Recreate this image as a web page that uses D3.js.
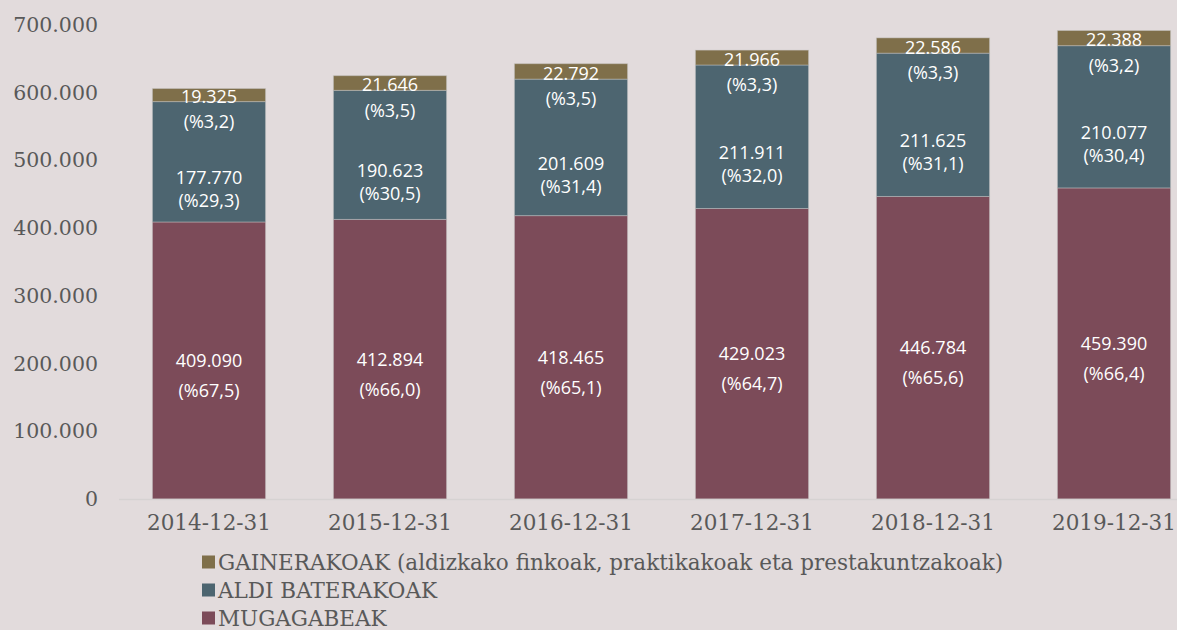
<!DOCTYPE html>
<html>
<head>
<meta charset="utf-8">
<script src="https://cdn.jsdelivr.net/npm/d3@7"></script>
<style>
  body { margin: 0; background: #e2dbdc; }
  svg { display: block; }
</style>
</head>
<body>
<div id="chart"></div>
<script>
// data
var categories = ["2014-12-31", "2015-12-31", "2016-12-31", "2017-12-31", "2018-12-31", "2019-12-31"];
var mugagabeak = [409090, 412894, 418465, 429023, 446784, 459390];
var aldiBaterakoak = [177770, 190623, 201609, 211911, 211625, 210077];
var gainerakoak = [19325, 21646, 22792, 21966, 22586, 22388];
var pctMugagabeak = ["67,5", "66,0", "65,1", "64,7", "65,6", "66,4"];
var pctAldi = ["29,3", "30,5", "31,4", "32,0", "31,1", "30,4"];
var pctGainerakoak = ["3,2", "3,5", "3,5", "3,3", "3,3", "3,2"];
var yTicks = [0, 100000, 200000, 300000, 400000, 500000, 600000, 700000];
var seriesNames = ["MUGAGABEAK", "ALDI BATERAKOAK", "GAINERAKOAK (aldizkako finkoak, praktikakoak eta prestakuntzakoak)"];

var width = 1177, height = 630;
var colors = ["#7c4b59", "#4d6570", "#7f6f4a"];
var serif = "'DejaVu Serif', serif";
var sans = "'Open Sans', sans-serif";

var locale = d3.formatLocale({decimal: ",", thousands: ".", grouping: [3], currency: ["", "€"]});
var fmt = locale.format(",d");

var rows = categories.map(function(c, i) {
  return {cat: c, m: mugagabeak[i], a: aldiBaterakoak[i], g: gainerakoak[i], i: i};
});

var svg = d3.select("#chart").append("svg")
  .attr("width", width)
  .attr("height", height);

// scales
var x = d3.scaleBand()
  .domain(categories)
  .range([118.5, 1204.5])
  .paddingInner(0.375)
  .paddingOuter(0.1875);

var y = d3.scaleLinear()
  .domain([0, 700000])
  .range([499, 25]);

var stack = d3.stack().keys(["m", "a", "g"]);
var layers = stack(rows);

// y axis labels only
var yAxis = svg.append("g")
  .attr("transform", "translate(98,0)")
  .call(d3.axisLeft(y).tickValues(yTicks).tickFormat(fmt).tickSize(0).tickPadding(0));
yAxis.select(".domain").remove();
yAxis.selectAll("text")
  .style("font-family", serif)
  .style("font-size", "20.5px")
  .attr("fill", "#595959");

// bars
svg.append("g").selectAll("g")
  .data(layers)
  .enter().append("g")
    .attr("fill", function(d, i) { return colors[i]; })
  .selectAll("rect")
  .data(function(d) { return d; })
  .enter().append("rect")
    .attr("x", function(d) { return x(d.data.cat); })
    .attr("y", function(d) { return y(d[1]); })
    .attr("width", x.bandwidth())
    .attr("height", function(d) { return y(d[0]) - y(d[1]); })
    .attr("stroke", "rgba(200,200,200,0.45)")
    .attr("stroke-width", 1);

// x axis
var xAxis = svg.append("g")
  .attr("transform", "translate(0," + y(0) + ")")
  .call(d3.axisBottom(x).tickSize(0).tickPadding(16));
xAxis.select(".domain").attr("stroke", "#d6d2d2").attr("stroke-width", 1.5);
xAxis.selectAll("text")
  .style("font-family", serif)
  .style("font-size", "21.5px")
  .attr("fill", "#595959");

// labels inside bars
var lbl = svg.append("g")
  .attr("fill", "#ffffff")
  .style("font-family", sans)
  .style("font-size", "18px")
  .attr("text-anchor", "middle");

function addLabel(cx, cy, txt) {
  lbl.append("text")
    .attr("x", cx)
    .attr("y", cy)
    .attr("dy", "0.35em")
    .text(txt);
}

rows.forEach(function(d, i) {
  var cx = x(d.cat) + x.bandwidth() / 2;
  // MUGAGABEAK
  var bMid = (y(0) + y(d.m)) / 2;
  addLabel(cx, bMid, fmt(d.m));
  addLabel(cx, bMid + 30, "(%" + pctMugagabeak[i] + ")");
  // ALDI BATERAKOAK
  var aMid = (y(d.m) + y(d.m + d.a)) / 2;
  addLabel(cx, aMid + 16, fmt(d.a));
  addLabel(cx, aMid + 39, "(%" + pctAldi[i] + ")");
  // GAINERAKOAK
  var gMid = (y(d.m + d.a) + y(d.m + d.a + d.g)) / 2;
  addLabel(cx, gMid + 2, fmt(d.g));
  addLabel(cx, y(d.m + d.a) + 20, "(%" + pctGainerakoak[i] + ")");
});

// legend
var legendOrder = [2, 1, 0];
var legend = svg.append("g");
legendOrder.forEach(function(k, j) {
  var ly = 562 + j * 28;
  legend.append("rect")
    .attr("x", 202)
    .attr("y", ly - 6.5)
    .attr("width", 13)
    .attr("height", 13)
    .attr("fill", colors[k]);
  legend.append("text")
    .attr("x", 218)
    .attr("y", ly)
    .attr("dy", "0.35em")
    .style("font-family", serif)
    .style("font-size", "21.5px")
    .attr("fill", "#595959")
    .text(seriesNames[k]);
});
</script>
</body>
</html>
